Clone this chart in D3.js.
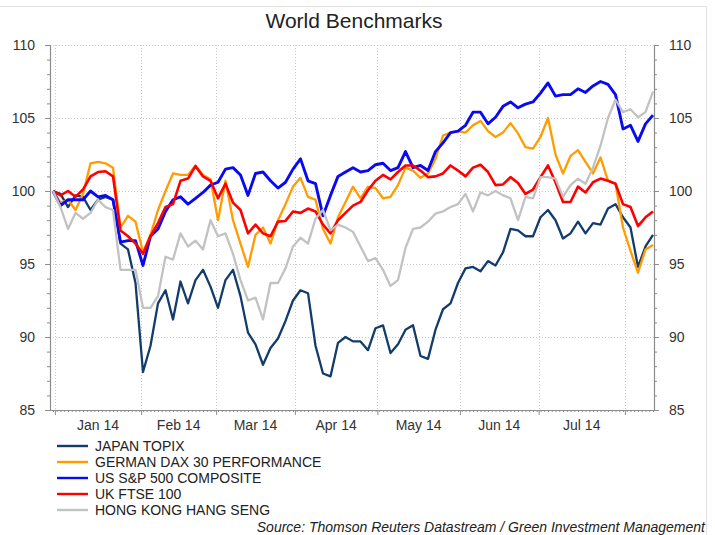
<!DOCTYPE html>
<html>
<head>
<meta charset="utf-8">
<script src="https://cdn.jsdelivr.net/npm/d3@7"></script>
<style>
  body { margin: 0; background: #fff; }
  svg { display: block; font-family: "Liberation Sans", Arial, sans-serif; }
</style>
</head>
<body>
<div id="chart"></div>
<script>
/* World Benchmarks – rebased equity indices, weekday time axis */

// sample dates (every second trading day)
const dates = ["2013-12-31","2014-01-02","2014-01-06","2014-01-08","2014-01-10","2014-01-14","2014-01-16","2014-01-20","2014-01-22","2014-01-24",
  "2014-01-28","2014-01-30","2014-02-03","2014-02-05","2014-02-07","2014-02-11","2014-02-13","2014-02-17","2014-02-19","2014-02-21",
  "2014-02-25","2014-02-27","2014-03-03","2014-03-05","2014-03-07","2014-03-11","2014-03-13","2014-03-17","2014-03-19","2014-03-21",
  "2014-03-25","2014-03-27","2014-03-31","2014-04-02","2014-04-04","2014-04-08","2014-04-10","2014-04-14","2014-04-16","2014-04-18",
  "2014-04-22","2014-04-24","2014-04-28","2014-04-30","2014-05-02","2014-05-06","2014-05-08","2014-05-12","2014-05-14","2014-05-16",
  "2014-05-20","2014-05-22","2014-05-26","2014-05-28","2014-05-30","2014-06-03","2014-06-05","2014-06-09","2014-06-11","2014-06-13",
  "2014-06-17","2014-06-19","2014-06-23","2014-06-25","2014-06-27","2014-07-01","2014-07-03","2014-07-07","2014-07-09","2014-07-11",
  "2014-07-15","2014-07-17","2014-07-21","2014-07-23","2014-07-25","2014-07-29","2014-07-31","2014-08-04","2014-08-06","2014-08-08",
  "2014-08-12"];

const topix = [100,99.8,98.9,99.7,99.6,98.7,99.4,99.6,99.4,96.4,
  96.0,93.7,87.6,89.4,92.3,93.2,91.2,93.8,92.3,93.9,
  94.6,93.45,92.0,93.9,94.6,92.8,90.3,89.5,88.1,89.25,
  89.9,91.1,92.5,93.2,93.0,89.4,87.5,87.3,89.6,90.0,
  89.7,89.7,89.1,90.6,90.8,88.9,89.5,90.5,90.8,88.7,
  88.5,90.5,91.9,92.3,93.7,94.7,94.8,94.5,95.2,94.9,
  95.8,97.4,97.3,96.9,96.9,98.2,98.7,98.0,96.75,97.1,
  97.9,97.1,97.8,97.7,98.8,99.1,98.2,97.5,94.8,96.2,
  97.0];

const dax = [100,99.2,99.4,98.7,99.8,101.9,102.0,101.9,101.6,97.5,
  98.3,97.9,95.8,97.0,98.7,100.0,101.2,101.1,101.1,101.75,
  101.1,100.8,98.0,100.7,98.0,96.4,94.8,97.0,97.5,96.4,
  98.0,99.1,100.3,100.9,99.6,99.4,97.4,96.4,98.2,99.25,
  100.3,99.5,100.3,100.2,99.5,99.6,100.4,101.6,101.4,100.9,
  101.2,102.2,103.8,104.0,104.1,104.0,104.5,104.8,104.1,103.7,
  104.0,104.65,103.95,103.0,102.9,103.7,105.0,102.5,101.2,102.4,
  102.8,102.0,101.2,102.3,100.7,100.5,97.5,95.9,94.4,96.0,
  96.3];

const spx = [100,99.0,99.4,99.4,99.4,100.0,99.6,99.7,99.4,96.5,
  96.6,96.6,94.9,96.9,97.4,98.6,99.4,99.6,99.1,99.5,
  99.9,100.4,100.6,101.5,101.6,101.1,99.7,101.2,101.3,100.7,
  100.2,100.6,101.5,102.2,100.7,100.5,98.3,99.7,101.0,101.3,
  101.6,101.3,101.4,101.8,101.9,101.4,101.6,102.7,101.6,101.75,
  101.4,102.7,103.3,104.0,104.1,104.5,105.4,105.4,104.6,105.05,
  105.8,106.1,105.7,105.95,106.1,106.7,107.4,106.5,106.6,106.6,
  107.0,106.75,107.2,107.5,107.3,106.6,104.25,104.5,103.4,104.6,
  105.2];

const ftse = [100,99.7,100.0,99.6,100.1,101.0,101.3,101.35,101.0,97.3,
  96.9,96.4,95.7,96.9,97.8,98.9,99.1,100.7,100.85,101.7,
  101.0,100.7,99.5,100.5,99.2,98.7,97.1,97.7,97.1,96.9,
  97.9,97.95,98.6,98.5,98.8,98.6,97.7,97.1,98.0,98.5,
  99.0,99.25,100.05,100.7,101.1,100.8,101.3,101.75,101.75,101.4,
  100.95,101.0,101.2,101.75,101.4,101.0,101.6,101.8,101.3,100.4,
  100.45,100.95,100.55,99.8,100.1,100.95,101.75,100.6,99.25,99.25,
  100.3,99.9,100.6,100.85,100.7,100.5,99.1,98.9,97.6,98.2,
  98.6];

const hsi = [100,98.9,97.4,98.5,98.1,98.5,99.4,98.9,98.7,94.6,
  94.6,94.6,92.0,92.0,92.8,95.5,95.3,97.1,96.2,96.6,
  96.0,98.0,96.9,97.1,95.7,93.9,92.5,92.7,91.2,93.7,
  93.7,94.7,96.2,96.8,96.4,98.1,98.7,97.3,97.7,97.5,
  97.2,96.2,95.2,95.4,94.6,93.5,93.9,96.1,97.4,97.5,
  97.9,98.45,98.6,98.9,99.1,99.8,98.6,99.9,99.7,100.0,
  99.7,99.5,98.0,99.6,99.5,100.95,100.95,100.85,99.6,100.4,
  100.85,100.5,101.6,103.1,105.0,106.25,105.4,105.6,105.05,105.4,
  106.8];

const seriesNames = ["JAPAN TOPIX", "GERMAN DAX 30 PERFORMANCE", "US S&P 500 COMPOSITE", "UK FTSE 100", "HONG KONG HANG SENG"];
const seriesColors = ["#123c6b", "#ff9c00", "#0a0af0", "#ff0000", "#c2c2c2"];
const seriesWidths = [2.3, 2.3, 2.9, 2.6, 2.3];

const monthLabels = ["Jan 14", "Feb 14", "Mar 14", "Apr 14", "May 14", "Jun 14", "Jul 14"];
const monthStarts = ["2014-01-01", "2014-02-01", "2014-03-01", "2014-04-01", "2014-05-01", "2014-06-01", "2014-07-01", "2014-08-01"];
const yMajor = [85, 90, 95, 100, 105, 110];

(function () {
  const W = 715, H = 535;
  const P = { left: 50, right: 654, top: 45, bottom: 410 };
  const FS = 14;
  const parse = d3.timeParse('%Y-%m-%d');
  const t0 = parse(dates[0]);
  const tEnd = parse(dates[dates.length - 1]);

  const isWeekday = d => d.getDay() % 6 !== 0;
  // index of a date on the trading-day (weekday) axis
  const tIdx = d => d3.timeDay.range(t0, d).filter(isWeekday).length;
  const nDays = tIdx(tEnd);

  const x = d3.scaleLinear().domain([0, nDays]).range([53, 653]);
  const y = d3.scaleLinear().domain([85, 110]).range([P.bottom, P.top]);

  const svg = d3.select('#chart').append('svg')
    .attr('width', W).attr('height', H);

  // faint outer frame (top + right edges)
  svg.append('path')
    .attr('d', `M0,6.5H706.5V${H}`)
    .attr('fill', 'none').attr('stroke', '#e2e2e2');

  svg.append('text')
    .attr('x', 354).attr('y', 28)
    .attr('text-anchor', 'middle')
    .attr('font-size', 21).attr('fill', '#222')
    .text('World Benchmarks');

  /* ── grid ── */
  const bounds = monthStarts.map(s => x(tIdx(parse(s)) - 0.5));
  const grid = svg.append('g').attr('stroke', '#c9c9c9')
    .attr('stroke-dasharray', '1,2').attr('stroke-width', 1);
  yMajor.filter(v => v > 85).forEach(v => {
    grid.append('line').attr('x1', P.left).attr('x2', P.right)
      .attr('y1', Math.round(y(v)) + 0.5).attr('y2', Math.round(y(v)) + 0.5);
  });
  bounds.forEach(bx => {
    grid.append('line').attr('y1', P.top).attr('y2', P.bottom)
      .attr('x1', Math.round(bx) + 0.5).attr('x2', Math.round(bx) + 0.5);
  });

  /* ── axes ── */
  const AX = '#8c8c8c';
  function styleAxis(g) {
    g.select('.domain').remove();
    g.selectAll('line').attr('stroke', AX);
    g.selectAll('text').attr('fill', '#333').attr('font-size', FS)
      .attr('font-family', '"Liberation Sans", Arial, sans-serif');
  }
  const minorY = d3.range(85, 111);

  const gl = svg.append('g').attr('transform', `translate(${P.left},0)`);
  gl.append('g').call(d3.axisLeft(y).tickValues(minorY).tickSize(3).tickFormat('')).call(styleAxis);
  gl.append('g').call(d3.axisLeft(y).tickValues(yMajor).tickSize(5).tickPadding(10).tickFormat(d3.format('d'))).call(styleAxis);

  const gr = svg.append('g').attr('transform', `translate(${P.right},0)`);
  gr.append('g').call(d3.axisRight(y).tickValues(minorY).tickSize(3).tickFormat('')).call(styleAxis);
  gr.append('g').call(d3.axisRight(y).tickValues(yMajor).tickSize(5).tickPadding(10).tickFormat(d3.format('d'))).call(styleAxis);

  const weekdays = d3.range(0, nDays + 1);
  const gb = svg.append('g').attr('transform', `translate(0,${P.bottom})`);
  gb.append('g').call(d3.axisBottom(x).tickValues(weekdays).tickSize(2).tickFormat('')).call(styleAxis);
  gb.append('g').call(d3.axisBottom(d3.scaleIdentity()).tickValues(bounds).tickSize(5).tickFormat('')).call(styleAxis);

  // axis lines
  svg.append('path')
    .attr('d', `M${P.left + 0.5},${P.top}V${P.bottom + 0.5}H${P.right + 0.5}V${P.top}`)
    .attr('fill', 'none').attr('stroke', AX).attr('stroke-width', 1.2);

  // month labels centred between boundaries
  svg.append('g').selectAll('text').data(monthLabels).join('text')
    .attr('x', (d, i) => (bounds[i] + bounds[i + 1]) / 2)
    .attr('y', 430)
    .attr('text-anchor', 'middle')
    .attr('font-size', FS).attr('fill', '#333')
    .text(d => d);

  /* ── lines ── */
  const xs = dates.map(s => x(tIdx(parse(s))));
  const allSeries = [topix, dax, spx, ftse, hsi];
  const line = d3.line().x((d, i) => xs[i]).y(d => y(d));

  svg.append('g').selectAll('path').data(allSeries).join('path')
    .attr('d', line)
    .attr('fill', 'none')
    .attr('stroke', (d, i) => seriesColors[i])
    .attr('stroke-width', (d, i) => seriesWidths[i])
    .attr('stroke-linejoin', 'round');

  /* ── legend ── */
  const lg = svg.append('g');
  seriesNames.forEach((name, i) => {
    const ly = 446 + i * 16;
    lg.append('line').attr('x1', 57).attr('x2', 88).attr('y1', ly).attr('y2', ly)
      .attr('stroke', seriesColors[i]).attr('stroke-width', 2.4);
    lg.append('text').attr('x', 95).attr('y', ly + 5)
      .attr('font-size', FS).attr('fill', '#222').text(name);
  });

  svg.append('text')
    .attr('x', 705).attr('y', 532)
    .attr('text-anchor', 'end')
    .attr('font-size', FS).attr('font-style', 'italic').attr('fill', '#222')
    .text('Source: Thomson Reuters Datastream / Green Investment Management');
})();
</script>
</body>
</html>
